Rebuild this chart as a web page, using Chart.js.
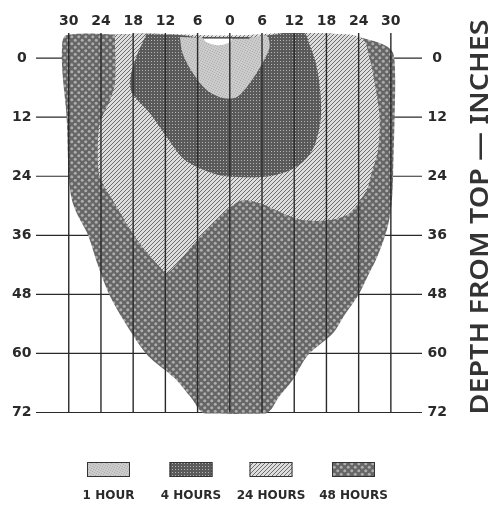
<!DOCTYPE html>
<html>
<head>
<meta charset="utf-8">
<script src="https://cdn.jsdelivr.net/npm/chart.js@4.4.1/dist/chart.umd.min.js"></script>
<style>
  html, body { margin: 0; padding: 0; background: #fff; }
</style>
</head>
<body>
<canvas id="soakChart" width="493" height="505"></canvas>
<script>
const widthTicks = [-30, -24, -18, -12, -6, 0, 6, 12, 18, 24, 30];
const depthTicks = [0, 12, 24, 36, 48, 60, 72];
const legendLabels = ['1 HOUR', '4 HOURS', '24 HOURS', '48 HOURS'];
const axisTitle = 'DEPTH FROM TOP \u2014 INCHES';

// axis extents, inches
const widthMin = -36.1, widthMax = 35.8;
const depthMin = -5.1, depthMax = 72.3;

// zone outlines: [inches from centre, inches from top]
const zone48 = [
  [-31.2, -3.4], [-30.6, -4.6], [-26.0, -5.0], [-21.4, -4.8], [-15.0, -5.0], [-9.3, -4.7],
  [-5.0, -4.1], [3.7, -4.1], [7.4, -4.8], [11.2, -5.3], [14.5, -5.3], [18.6, -5.0],
  [23.8, -4.3], [27.0, -3.4], [29.5, -2.2], [30.5, -0.8], [30.8, 4.0], [30.7, 12.0],
  [30.5, 20.0], [30.2, 28.9], [29.4, 34.3], [27.6, 40.0], [25.6, 44.5], [23.8, 48.4],
  [21.5, 52.0], [19.2, 55.9], [14.5, 60.4], [11.7, 65.4], [9.3, 68.6], [6.7, 72.2],
  [-4.7, 72.2], [-7.2, 69.0], [-10.3, 65.0], [-15.3, 60.4], [-18.8, 55.0], [-22.3, 48.4],
  [-24.6, 42.0], [-26.4, 36.0], [-28.3, 32.0], [-29.4, 28.9], [-30.0, 24.0], [-30.4, 12.0],
  [-31.1, 4.0], [-31.3, 0.0]
];
const zone24 = [
  [-21.4, -4.8], [-15.0, -5.0], [0.0, -4.6], [13.6, -5.3], [18.6, -5.0], [24.6, -4.1],
  [26.1, 0.4], [27.0, 5.1], [27.9, 12.0], [27.6, 18.7], [26.4, 23.4], [25.5, 26.8],
  [22.3, 31.5], [18.6, 32.9], [13.6, 32.9], [9.9, 31.5], [5.6, 29.5], [2.4, 28.9],
  [-0.6, 30.9], [-5.6, 36.4], [-8.6, 40.2], [-11.7, 43.7], [-13.0, 42.5], [-15.8, 39.0],
  [-18.1, 35.6], [-21.8, 28.9], [-24.2, 24.2], [-24.6, 18.7], [-24.2, 13.2], [-22.3, 8.5],
  [-21.4, 5.1]
];
const zone4 = [
  [-15.5, -4.9], [-17.3, -0.6], [-18.6, 4.5], [-18.2, 7.1], [-14.9, 11.2], [-11.7, 16.1],
  [-8.8, 20.3], [-5.6, 22.4], [-1.9, 23.8], [2.8, 24.2], [7.4, 24.0], [11.2, 22.8],
  [14.0, 20.7], [15.8, 17.7], [16.9, 12.6], [16.9, 7.5], [16.2, 1.8], [14.9, -2.6],
  [13.6, -5.3], [3.7, -4.1], [-5.0, -4.1], [-9.3, -4.7]
];
const zone1 = [
  [-9.3, -4.3], [-8.8, -1.0], [-6.9, 3.0], [-4.3, 6.5], [-1.3, 8.1], [1.3, 7.9],
  [3.7, 5.1], [6.1, 1.0], [7.4, -2.2], [6.9, -4.5], [3.7, -4.1], [-5.0, -4.1]
];
const topNotch = [[-5.0, -4.1], [0.4, -4.1], [-0.4, -3.0], [-2.2, -2.6], [-4.3, -3.2]];
const topEdge = [[-5.0, -4.1], [3.7, -4.1]];

const ink = '#2a2a2a';
const canvas = document.getElementById('soakChart');
const ctx = canvas.getContext('2d');

function makePattern(size, paint) {
  const tile = document.createElement('canvas');
  tile.width = size;
  tile.height = size;
  paint(tile.getContext('2d'));
  return ctx.createPattern(tile, 'repeat');
}

const oneHour = makePattern(5, g => {
  g.fillStyle = '#cbcbcb'; g.fillRect(0, 0, 5, 5);
  g.fillStyle = '#b0b0b0';
  [[0, 0], [2, 1], [4, 2], [1, 3], [3, 4]].forEach(([x, y]) => g.fillRect(x, y, 1, 1));
});
const fourHours = makePattern(3, g => {
  g.fillStyle = '#5a5a5a'; g.fillRect(0, 0, 3, 3);
  g.fillStyle = '#b4b4b4'; g.fillRect(1, 1, 1, 1);
});
const dayHours = makePattern(4, g => {
  g.fillStyle = '#dddddd'; g.fillRect(0, 0, 4, 4);
  g.fillStyle = '#6c6c6c';
  [[3, 0], [2, 1], [1, 2], [0, 3]].forEach(([x, y]) => g.fillRect(x, y, 1, 1));
});
const twoDays = makePattern(7, g => {
  g.fillStyle = '#666666'; g.fillRect(0, 0, 7, 7);
  g.fillStyle = '#adadad';
  [[1.75, 1.75], [5.25, 5.25]].forEach(([x, y]) => {
    g.beginPath(); g.arc(x, y, 1.5, 0, Math.PI * 2); g.fill();
  });
});
const legendFills = [oneHour, fourHours, dayHours, twoDays];

const toPoints = arr => arr.map(([x, y]) => ({ x, y }));
const closed = arr => toPoints(arr.concat([arr[0]]));

function zone(data, fill, order) {
  return {
    data: closed(data),
    backgroundColor: fill,
    borderWidth: 0,
    pointRadius: 0,
    fill: 'shape',
    tension: 0.3,
    order
  };
}

function rule(data, width, order) {
  return {
    data: toPoints(data),
    borderColor: ink,
    borderWidth: width,
    pointRadius: 0,
    fill: false,
    tension: 0,
    order
  };
}

const datasets = [
  ...widthTicks.map(v => rule([[v, depthMin], [v, 72]], 1.4, 0)),
  rule(topEdge, 1.4, 0),
  zone(topNotch, '#ffffff', 1),
  zone(zone1, oneHour, 2),
  zone(zone4, fourHours, 3),
  zone(zone24, dayHours, 4),
  zone(zone48, twoDays, 5),
  ...depthTicks.map(d => rule([[widthMin, d], [widthMax, d]], 1.2, 6))
];

const tickFont = { family: 'DejaVu Sans', size: 14, weight: 'bold' };

function depthAxis(position, width, padding) {
  return {
    type: 'linear',
    position,
    reverse: true,
    min: depthMin,
    max: depthMax,
    grid: { display: false, drawTicks: false },
    border: { display: false },
    afterBuildTicks: axis => { axis.ticks = depthTicks.map(value => ({ value })); },
    afterFit: axis => { axis.width = width; },
    ticks: { font: tickFont, color: ink, padding, crossAlign: 'center', autoSkip: false }
  };
}

const extras = {
  id: 'extras',
  afterDraw(chart) {
    const c = chart.ctx;
    c.save();
    c.translate(481, 217);
    c.rotate(-Math.PI / 2);
    c.font = '600 26px "Noto Sans"';
    const w = c.measureText(axisTitle).width;
    c.scale(395 / w, 1);
    c.textAlign = 'center';
    c.textBaseline = 'middle';
    c.fillStyle = '#333';
    c.fillText(axisTitle, 0, 0);
    c.restore();

    const centres = [108.5, 191, 271, 353.5];
    c.save();
    c.font = 'bold 12px "DejaVu Sans"';
    c.textAlign = 'center';
    c.textBaseline = 'alphabetic';
    legendLabels.forEach((label, i) => {
      const x = centres[i] - 21.5;
      c.fillStyle = legendFills[i];
      c.fillRect(x, 462, 43, 15);
      c.strokeStyle = '#333';
      c.lineWidth = 1;
      c.strokeRect(x + 0.5, 462.5, 42, 14);
      c.fillStyle = ink;
      c.fillText(label, centres[i], 499);
    });
    c.restore();
  }
};

new Chart(ctx, {
  type: 'line',
  data: { datasets },
  options: {
    responsive: false,
    animation: false,
    layout: { padding: { bottom: 91 } },
    plugins: { legend: { display: false }, tooltip: { enabled: false } },
    scales: {
      x: {
        type: 'linear',
        position: 'top',
        min: widthMin,
        max: widthMax,
        grid: { display: false, drawTicks: false },
        border: { display: false },
        afterBuildTicks: axis => { axis.ticks = widthTicks.map(value => ({ value })); },
        afterFit: axis => { axis.height = 33; },
        ticks: { font: tickFont, color: ink, padding: 3, maxRotation: 0, autoSkip: false, callback: v => Math.abs(v) }
      },
      y: depthAxis('left', 36, 4.5),
      y2: depthAxis('right', 71, 5.5)
    }
  },
  plugins: [extras]
});
</script>
</body>
</html>
